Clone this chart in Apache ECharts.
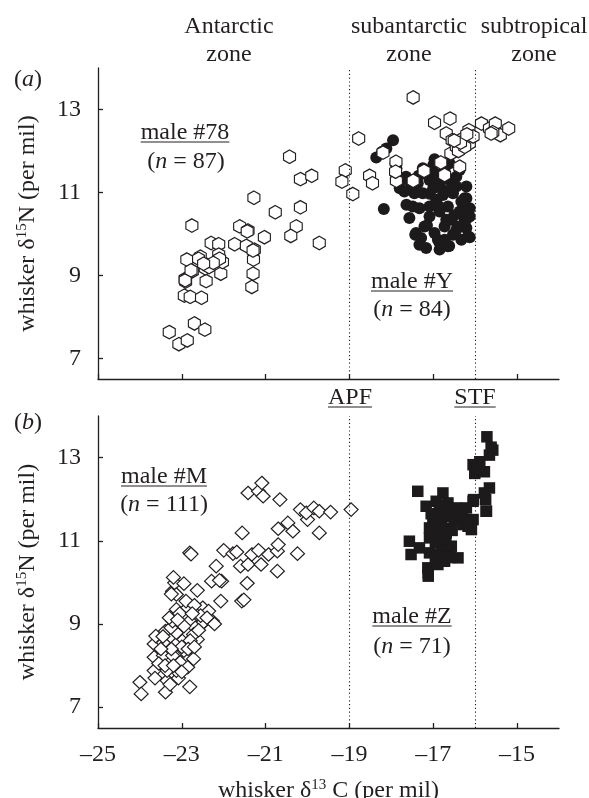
<!DOCTYPE html>
<html><head><meta charset="utf-8">
<script src="https://cdn.jsdelivr.net/npm/echarts@6/dist/echarts.min.js"></script>
<style>html,body{margin:0;padding:0;background:#fff}#c{width:589px;height:798px}</style>
</head><body><div id="c"></div>
<script>
// ---- tick values / reference lines ----
const xTicks = [-25, -23, -21, -19, -17, -15];
const yTicks = [7, 9, 11, 13];
const fronts = [-19, -16]; // APF, STF

// ---- panel (a): male #78 (open hexagons) ----
const male78 = [
 [-23.30,7.63],[-23.07,7.34],[-22.87,7.43],[-22.70,7.84],[-22.45,7.69],
 [-22.94,8.51],[-22.80,8.48],[-22.53,8.46],[-22.92,8.91],[-22.91,8.85],
 [-22.75,9.10],[-22.88,9.38],[-22.76,10.20],[-22.56,9.45],[-22.42,8.86],
 [-22.44,9.17],[-22.39,9.25],[-22.30,9.78],[-22.12,9.75],[-22.12,9.50],
 [-22.07,9.04],[-22.03,9.32],[-21.74,9.75],[-21.62,10.18],[-21.42,10.08],
 [-21.46,9.71],[-21.27,9.62],[-21.29,9.38],[-21.30,9.04],[-21.33,8.72],
 [-21.28,10.87],[-21.03,9.92],[-20.77,10.52],[-20.43,11.86],[-20.17,11.32],
 [-19.90,11.40],[-20.17,10.64],[-20.27,10.18],[-20.40,9.95],[-19.72,9.78],
 [-19.10,11.53],[-19.18,11.26],[-18.92,10.96],[-18.78,12.30],[-18.52,11.40],
 [-18.45,11.22],[-18.20,11.96],[-17.89,11.74],[-17.88,11.28],[-17.48,13.29],
 [-17.48,11.28],[-17.22,11.52],[-16.97,12.68],[-16.60,12.78],[-16.69,12.42],
 [-16.55,12.26],[-16.82,11.72],[-16.73,11.42],[-16.58,11.94],[-16.37,11.62],
 [-16.45,12.10],[-16.29,12.30],[-16.15,12.50],[-16.14,12.18],[-15.85,12.66],
 [-15.66,12.54],[-15.52,12.66],[-15.40,12.38],[-15.20,12.54],[-15.58,12.45],
 [-22.35,9.20],[-22.60,9.40],[-22.92,8.88],[-22.10,9.40],[-22.25,9.30],
 [-21.30,9.60],[-16.40,12.00],[-16.25,12.10],[-16.35,12.20],[-16.05,12.35],
 [-17.90,11.50],[-22.78,9.12],[-22.48,9.28],[-21.44,10.06],[-16.50,12.25],
 [-15.62,12.42],[-16.20,12.40]
];

// ---- panel (a): male #Y (filled circles) ----
const maleY = [
 [-17.96,12.26],[-18.12,12.06],[-18.36,11.84],[-18.22,11.98],[-17.88,11.58],
 [-17.88,11.38],[-18.18,10.60],[-16.97,11.80],[-17.25,11.58],[-17.57,11.30],
 [-17.80,11.10],[-17.37,11.22],[-17.09,11.30],[-16.85,11.22],[-16.61,11.30],
 [-16.45,11.38],[-16.45,11.14],[-16.21,11.14],[-16.37,11.54],[-17.64,10.70],
 [-17.49,10.66],[-17.57,10.38],[-17.25,10.98],[-17.09,10.97],[-16.93,10.82],
 [-16.77,10.94],[-16.65,10.66],[-16.57,10.34],[-16.25,10.86],[-16.25,10.58],
 [-16.25,10.34],[-16.21,10.14],[-16.17,9.94],[-16.41,10.18],[-16.53,9.98],
 [-16.73,9.86],[-16.65,9.70],[-16.89,9.86],[-17.21,10.18],[-17.09,10.42],
 [-17.41,10.02],[-17.29,9.90],[-17.33,9.74],[-17.17,9.66],[-16.97,10.02],
 [-16.73,10.18],[-16.37,10.54],[-16.33,10.78],[-16.69,10.34],[-16.85,10.54],
 [-17.09,10.66],[-17.33,10.62],[-17.45,10.98],[-17.53,11.18],[-17.69,11.02],
 [-17.77,11.30],[-17.21,11.46],[-16.97,11.46],[-16.73,11.54],[-16.77,11.06],
 [-16.53,10.98],[-16.61,11.70],[-17.00,11.66],[-17.65,11.38],[-17.90,11.70],
 [-16.85,9.62],[-16.33,9.86],[-16.13,10.42],[-16.13,10.62],[-16.21,10.86],
 [-17.43,9.98],[-16.85,9.78],[-16.62,9.71],[-16.13,9.92],[-16.26,10.82],
 [-16.22,10.34],[-17.00,11.10],[-16.90,10.70],[-16.50,10.45],[-17.35,11.40],
 [-16.45,10.10],[-17.15,10.20],[-16.60,11.05],[-16.95,11.35]
];

// ---- panel (b): male #M (open diamonds) ----
const maleM = [
 [-24.00,7.60],[-23.97,7.32],[-23.39,7.36],[-22.81,7.49],[-23.66,7.88],
 [-23.64,7.70],[-23.35,7.64],[-23.08,7.70],[-23.13,7.88],[-23.66,8.20],
 [-23.44,8.24],[-23.22,8.24],[-23.66,8.52],[-23.62,8.71],[-23.39,8.83],
 [-23.44,8.55],[-23.13,8.52],[-22.95,8.63],[-22.86,8.20],[-22.72,8.16],
 [-22.63,8.63],[-22.90,8.83],[-23.13,8.79],[-23.26,8.91],[-23.22,9.07],
 [-23.30,9.15],[-23.13,9.35],[-22.95,9.15],[-22.81,9.07],[-22.86,9.39],
 [-22.63,9.27],[-22.50,9.39],[-22.45,9.07],[-22.27,9.07],[-22.36,9.31],
 [-22.54,8.99],[-22.68,8.91],[-22.72,8.75],[-22.95,8.36],[-23.04,8.08],
 [-22.86,7.96],[-23.35,7.88],[-23.22,9.79],[-23.17,9.99],[-23.13,9.71],
 [-22.95,9.97],[-22.63,9.81],[-22.81,10.71],[-22.29,10.03],[-22.18,10.39],
 [-22.05,10.03],[-22.07,9.55],[-22.00,10.77],[-21.78,10.69],[-21.69,10.73],
 [-21.60,10.39],[-21.44,9.98],[-21.57,9.55],[-21.56,11.19],[-21.42,10.43],
 [-21.33,10.67],[-21.17,10.77],[-21.11,10.43],[-20.93,10.67],[-20.72,10.75],
 [-20.70,10.91],[-20.72,10.27],[-20.70,11.29],[-20.47,11.43],[-20.35,11.23],
 [-20.24,10.69],[-20.17,11.75],[-20.00,11.51],[-20.03,11.67],[-19.85,11.79],
 [-19.72,11.71],[-19.72,11.19],[-19.45,11.69],[-18.96,11.75],[-21.42,12.15],
 [-21.17,12.19],[-21.06,12.07],[-21.09,12.39],[-20.66,11.99],
 [-23.25,9.72],[-23.20,10.12],[-23.05,9.25],[-22.90,9.55],[-22.70,9.45],
 [-22.55,9.20],[-22.40,9.15],[-22.60,8.85],[-22.80,8.60],[-23.00,8.45],
 [-23.25,8.40],[-23.50,8.40],[-23.55,8.05],[-23.40,8.00],[-23.20,8.00],
 [-23.00,7.85],[-23.28,7.55],[-22.95,8.95],[-22.75,9.25],[-23.10,9.10],
 [-23.45,8.70],[-22.85,8.40],[-22.70,8.45],[-22.22,9.00],[-22.78,10.68],
 [-21.52,9.58],[-22.10,10.05]
];

// ---- panel (b): male #Z (filled squares) ----
const maleZ = [
 [-15.72,13.50],[-15.58,13.18],[-15.66,13.06],[-15.89,12.90],[-16.05,12.83],
 [-16.01,12.62],[-15.78,12.66],[-15.66,12.27],[-15.78,12.15],[-15.75,11.99],
 [-15.74,11.71],[-16.05,11.95],[-17.37,12.19],[-16.77,12.15],[-17.17,11.83],
 [-16.93,11.95],[-16.65,11.91],[-16.45,11.79],[-16.21,11.79],[-17.01,11.55],
 [-16.85,11.67],[-16.61,11.59],[-16.05,11.51],[-16.29,11.39],[-16.09,11.27],
 [-17.09,11.31],[-16.89,11.23],[-16.69,11.19],[-17.09,11.07],[-16.77,10.99],
 [-16.57,10.87],[-17.57,10.99],[-17.33,10.83],[-17.53,10.67],[-17.09,10.71],
 [-16.85,10.67],[-16.41,10.59],[-16.73,10.51],[-16.89,10.43],[-17.13,10.35],
 [-17.12,10.23],[-17.12,10.15],[-16.76,10.51],[-16.17,11.35],[-16.04,11.99],
 [-15.73,11.71],
 [-16.95,11.45],[-16.80,11.40],[-16.70,11.30],[-16.90,11.10],[-16.75,11.60],
 [-16.60,11.75],[-16.85,11.85],[-17.00,11.20],[-16.80,10.85],[-16.65,10.75],
 [-16.95,10.95],[-16.70,11.05],[-16.50,11.50],[-16.40,11.70],[-16.85,11.55],
 [-17.05,11.65],[-16.60,10.60],[-16.95,10.55],[-16.70,10.60],[-16.55,11.25],
 [-16.75,11.80],[-16.30,11.60],[-16.20,11.45],[-15.95,12.75],[-15.62,13.25]
];

// ---- styling ----
const FONT = 'Liberation Serif';
const FS = 24;
const INK = '#231f20';
const HEX = 'path://M0,-10L8.66,-5L8.66,5L0,10L-8.66,5L-8.66,-5Z';

const supRich = { sup: { fontSize: 15, fontFamily: FONT, color: INK, verticalAlign: 'top', lineHeight: 26 } };

function mkX(gi, labels) {
  return {
    type: 'value', gridIndex: gi, min: -25, max: -14, position: 'bottom',
    axisLine: { show: true, onZero: false, lineStyle: { color: INK, width: 1.3 } },
    axisTick: { show: true, inside: true, length: 5, customValues: xTicks, lineStyle: { color: INK, width: 1.3 } },
    axisLabel: { show: labels, customValues: xTicks, margin: 15, fontFamily: FONT, fontSize: FS, color: INK,
      formatter: v => String(v).replace('-', '\u2013') },
    splitLine: { show: false },
    name: labels ? 'whisker \u03b4{sup|13} C (per mil)' : '',
    nameLocation: 'middle', nameGap: 50,
    nameTextStyle: { fontFamily: FONT, fontSize: FS, color: INK, lineHeight: 26, rich: supRich }
  };
}
function mkY(gi) {
  return {
    type: 'value', gridIndex: gi, min: 6.5, max: 14, position: 'left',
    axisLine: { show: true, onZero: false, lineStyle: { color: INK, width: 1.3 } },
    axisTick: { show: true, inside: true, length: 5, customValues: yTicks, lineStyle: { color: INK, width: 1.3 } },
    axisLabel: { customValues: yTicks, margin: 17, fontFamily: FONT, fontSize: FS, color: INK },
    splitLine: { show: false },
    name: 'whisker \u03b4{sup|15}N (per mil)',
    nameLocation: 'middle', nameGap: 57, nameRotate: 90,
    nameTextStyle: { fontFamily: FONT, fontSize: FS, color: INK, lineHeight: 26, rich: supRich }
  };
}
const frontLines = {
  silent: true, symbol: 'none', animation: false,
  label: { show: false },
  lineStyle: { type: [1.2, 2.6], color: INK, width: 1.1 },
  emphasis: { disabled: true },
  data: fronts.map(v => ({ xAxis: v }))
};

// text measurement for underlines
const ctx = document.createElement('canvas').getContext('2d');
ctx.font = FS + 'px "' + FONT + '"';
function txt(s, x, y, rich) {
  return { type: 'text', x: x, y: y, silent: true,
    style: { text: s, fill: INK, fontFamily: FONT, fontSize: FS, align: 'center', verticalAlign: 'middle', lineHeight: 28,
      rich: rich ? { i: { fontStyle: 'italic', fontFamily: FONT, fontSize: FS, fill: INK } } : undefined } };
}
function uline(s, cx, y) {
  const w = ctx.measureText(s).width;
  return { type: 'line', silent: true, shape: { x1: cx - w / 2, y1: y, x2: cx + w / 2, y2: y }, style: { stroke: INK, lineWidth: 1 } };
}
function under(s, cx, cy) { return [txt(s, cx, cy), uline(s, cx, cy + 9)]; }

const graphics = [
  txt('Antarctic\nzone', 229, 41),
  txt('subantarctic\nzone', 409, 41),
  txt('subtropical\nzone', 534, 41),
  txt('({i|a})', 28, 80, true),
  txt('({i|b})', 28, 423, true),
  ...under('male #78', 185, 133),
  txt('({i|n} = 87)', 186, 162, true),
  ...under('male #Y', 412, 282),
  txt('({i|n} = 84)', 412, 310, true),
  ...under('APF', 350, 398),
  ...under('STF', 475, 398),
  ...under('male #M', 164, 477),
  txt('({i|n} = 111)', 164, 505, true),
  ...under('male #Z', 412, 617),
  txt('({i|n} = 71)', 412, 647, true)
];

const chart = echarts.init(document.getElementById('c'), null, { renderer: 'canvas' });
chart.setOption({
  animation: false,
  backgroundColor: '#fff',
  grid: [
    { left: 98, top: 68, width: 461, height: 311, containLabel: false, outerBoundsMode: 'none' },
    { left: 98, top: 416, width: 461, height: 312, containLabel: false, outerBoundsMode: 'none' }
  ],
  xAxis: [mkX(0, false), mkX(1, true)],
  yAxis: [mkY(0), mkY(1)],
  series: [
    { name: 'male #Y', type: 'scatter', xAxisIndex: 0, yAxisIndex: 0, data: maleY,
      symbol: 'circle', symbolSize: 12, itemStyle: { color: '#1c1a1b', opacity: 1 },
      emphasis: { disabled: true }, markLine: frontLines },
    { name: 'male #78', type: 'scatter', xAxisIndex: 0, yAxisIndex: 0, data: male78,
      symbol: HEX, symbolSize: [12, 13.5], itemStyle: { color: '#fff', borderColor: INK, borderWidth: 1.2, opacity: 1 },
      emphasis: { disabled: true } },
    { name: 'male #Z', type: 'scatter', xAxisIndex: 1, yAxisIndex: 1, data: maleZ,
      symbol: 'rect', symbolSize: 11.5, itemStyle: { color: '#1c1a1b', opacity: 1 },
      emphasis: { disabled: true }, markLine: frontLines },
    { name: 'male #M', type: 'scatter', xAxisIndex: 1, yAxisIndex: 1, data: maleM,
      symbol: 'diamond', symbolSize: [14, 13.5], itemStyle: { color: '#fff', borderColor: INK, borderWidth: 1.2, opacity: 1 },
      emphasis: { disabled: true } }
  ],
  graphic: graphics
});
</script></body></html>
